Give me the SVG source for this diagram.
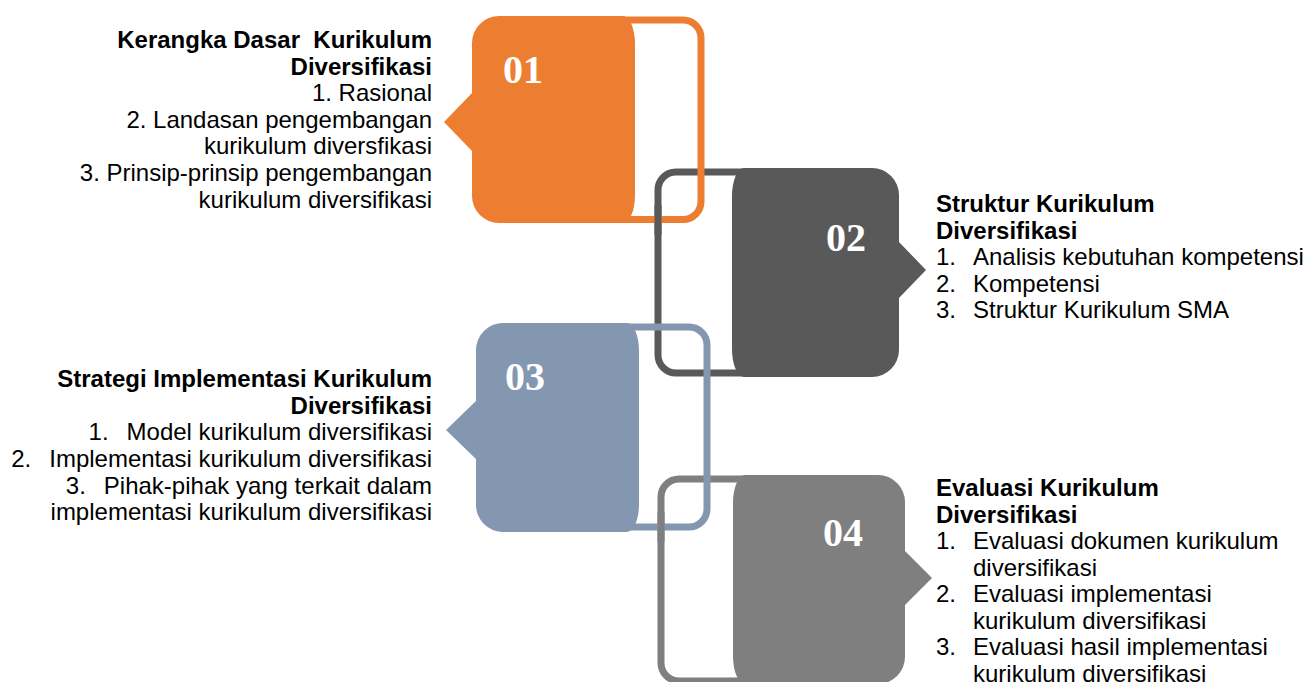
<svg xmlns="http://www.w3.org/2000/svg" width="1307" height="682" viewBox="0 0 1307 682">
<style>
.t{font-family:"Liberation Sans",Arial,sans-serif;font-size:24px;fill:#000;white-space:pre}
.b{font-weight:bold}
.e{text-anchor:end}
.num{font-family:"Liberation Serif","Times New Roman",serif;font-size:40px;font-weight:bold;fill:#fff}
.fr{fill:none;stroke-width:7}
</style>
<rect width="1307" height="682" fill="#fff"/>
<g id="connectors">
<path class="fr" stroke="#595959" d="M780,172 H676 A18,18 0 0 0 658,190 V355 A18,18 0 0 0 676,373 H780"/>
<path class="fr" stroke="#ED7D31" d="M600,20 H683 A18,18 0 0 1 701,38 V201.5 A18,18 0 0 1 683,219.5 H600"/>
<path class="fr" stroke="#595959" d="M658,205 V235"/>
<path class="fr" stroke="#7F7F7F" d="M780,479 H679 A18,18 0 0 0 661,497 V663 A18,18 0 0 0 679,681 H780"/>
<path class="fr" stroke="#8497B0" d="M600,327 H689 A18,18 0 0 1 707,345 V509 A18,18 0 0 1 689,527 H600"/>
<path class="fr" stroke="#7F7F7F" d="M661,512 V542"/>
</g>
<g id="node01">
<path fill="#ED7D31" d="M499,16 H623 A12,28 0 0 1 635,44 V195 A12,28 0 0 1 623,223 H499 A27,27 0 0 1 472,196 V151 L444,122 L472,93 V43 A27,27 0 0 1 499,16 Z"/>
<text class="num" x="503" y="83">01</text>
<text class="t b e" x="432" y="48" xml:space="preserve">Kerangka Dasar  Kurikulum</text>
<text class="t b e" x="432" y="74.5">Diversifikasi</text>
<text class="t e" x="432" y="101">1. Rasional</text>
<text class="t e" x="432" y="127.7">2. Landasan pengembangan</text>
<text class="t e" x="432" y="154.3">kurikulum diversfikasi</text>
<text class="t e" x="432" y="181">3. Prinsip-prinsip pengembangan</text>
<text class="t e" x="432" y="207.7">kurikulum diversifikasi</text>
</g>
<g id="node02">
<path fill="#595959" d="M744,168 H872 A27,27 0 0 1 899,195 V242 L926,270 L899,298 V350 A27,27 0 0 1 872,377 H744 A12,28 0 0 1 732,349 V196 A12,28 0 0 1 744,168 Z"/>
<text class="num" x="826" y="251">02</text>
<text class="t b" x="936" y="212">Struktur Kurikulum</text>
<text class="t b" x="936" y="238.5">Diversifikasi</text>
<text class="t" x="936" y="265">1.</text><text class="t" x="973" y="265">Analisis kebutuhan kompetensi</text>
<text class="t" x="936" y="291.5">2.</text><text class="t" x="973" y="291.5">Kompetensi</text>
<text class="t" x="936" y="318">3.</text><text class="t" x="973" y="318">Struktur Kurikulum SMA</text>
</g>
<g id="node03">
<path fill="#8497B0" d="M503,323 H627 A12,28 0 0 1 639,351 V504 A12,28 0 0 1 627,532 H503 A27,27 0 0 1 476,505 V459 L446,430 L476,401 V350 A27,27 0 0 1 503,323 Z"/>
<text class="num" x="505" y="390">03</text>
<text class="t b e" x="432" y="387">Strategi Implementasi Kurikulum</text>
<text class="t b e" x="432" y="413.7">Diversifikasi</text>
<text class="t e" x="432" y="440.3">1.<tspan dx="18">Model kurikulum diversifikasi</tspan></text>
<text class="t e" x="432" y="467">2.<tspan dx="18">Implementasi kurikulum diversifikasi</tspan></text>
<text class="t e" x="432" y="493.7">3.<tspan dx="18">Pihak-pihak yang terkait dalam</tspan></text>
<text class="t e" x="432" y="520.3">implementasi kurikulum diversifikasi</text>
</g>
<g id="node04">
<path fill="#7F7F7F" d="M745,475 H878 A27,27 0 0 1 905,502 V551 L932,578 L905,605 V657 A27,27 0 0 1 878,684 H745 A12,28 0 0 1 733,656 V503 A12,28 0 0 1 745,475 Z"/>
<text class="num" x="823" y="546">04</text>
<text class="t b" x="936" y="496">Evaluasi Kurikulum</text>
<text class="t b" x="936" y="522.5">Diversifikasi</text>
<text class="t" x="936" y="549">1.</text><text class="t" x="973" y="549">Evaluasi dokumen kurikulum</text>
<text class="t" x="973" y="575.5">diversifikasi</text>
<text class="t" x="936" y="602">2.</text><text class="t" x="973" y="602">Evaluasi implementasi</text>
<text class="t" x="973" y="628.5">kurikulum diversifikasi</text>
<text class="t" x="936" y="655">3.</text><text class="t" x="973" y="655">Evaluasi hasil implementasi</text>
<text class="t" x="973" y="681.5">kurikulum diversifikasi</text>
</g>
</svg>
